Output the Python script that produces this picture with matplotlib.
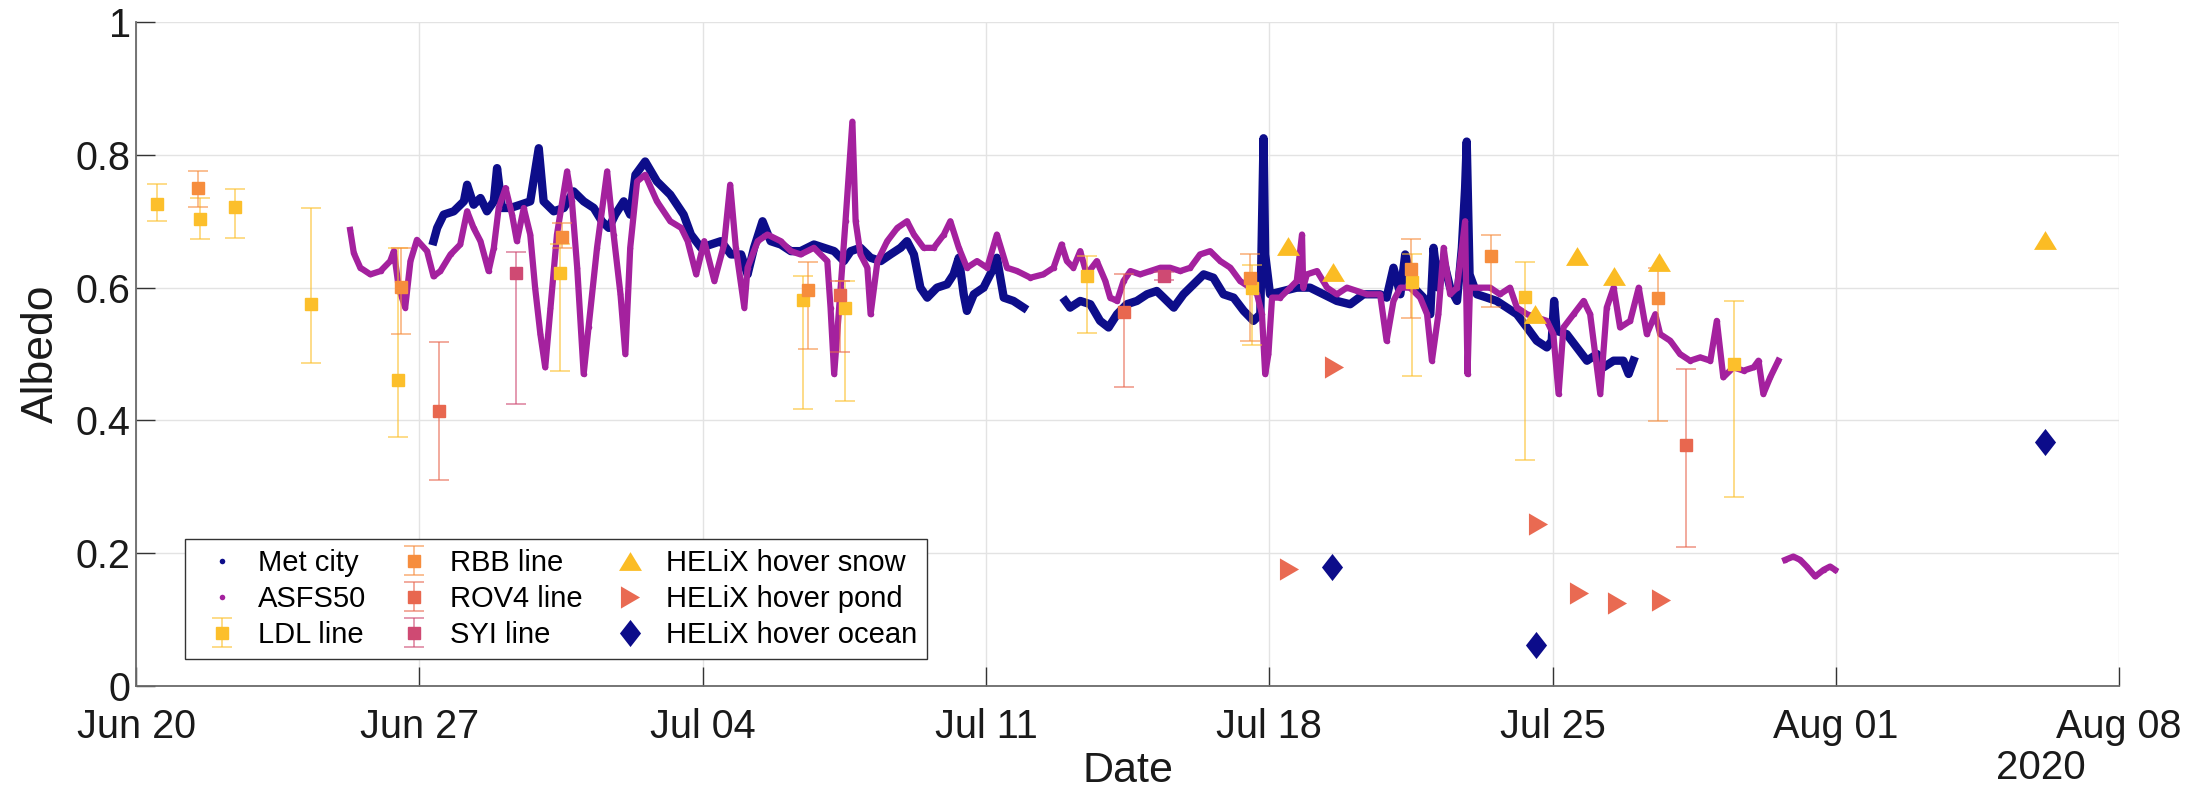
import numpy as np
import matplotlib
matplotlib.use('Agg')
import matplotlib.pyplot as plt
import matplotlib.dates as mdates
from matplotlib.colors import to_rgba

plt.rcParams['font.family'] = ['Liberation Sans', 'DejaVu Sans']

# days are counted from 2020-06-20 00:00
start = mdates.date2num(np.datetime64('2020-06-20'))

met_day = [7.35, 7.44, 7.60, 7.85, 8.10, 8.18, 8.34, 8.51, 8.67, 8.84, 8.92, 9.04, 9.25, 9.50, 9.74,
           9.95, 10.07, 10.32, 10.57, 10.81, 11.06, 11.31, 11.51, 11.68, 11.84, 12.05, 12.21, 12.34,
           12.58, 12.87, 13.20, 13.53, 13.71, 13.96, 14.20, 14.45, 14.70, 14.95, 15.11, 15.27, 15.48,
           15.68, 15.93, 16.18, 16.42, 16.75, 17.00, 17.25, 17.49, 17.66, 17.90, 18.15, 18.40, 18.64,
           18.89, 19.05, 19.22, 19.38, 19.55, 19.79, 20.04, 20.20, 20.33, 20.45, 20.53, 20.70, 20.94,
           21.19, 21.27, 21.44, 21.68, 21.93, 22.40,
           22.96, 23.08, 23.33, 23.58, 23.82, 24.03, 24.24, 24.48, 24.73, 24.98, 25.22, 25.39, 25.64,
           25.88, 26.13, 26.38, 26.62, 26.87, 27.12, 27.37, 27.61, 27.78, 27.86, 27.90, 28.02, 28.35,
           28.68, 29.01, 29.34, 29.67, 30.00, 30.33, 30.74, 30.90, 31.07, 31.24, 31.36, 31.57, 31.81,
           31.98, 32.06, 32.18, 32.31, 32.47, 32.64, 32.76, 32.84, 32.88, 32.95, 33.13, 33.38, 33.62,
           33.87, 34.12, 34.37, 34.61, 34.86, 34.98, 35.04, 35.10, 35.35, 35.60, 35.85, 36.10, 36.26,
           36.51, 36.75, 36.88, 37.00]
met_alb = [0.670, 0.690, 0.710, 0.715, 0.730, 0.755, 0.725, 0.735, 0.715, 0.730, 0.780, 0.720, 0.720,
           0.725, 0.730, 0.810, 0.730, 0.715, 0.720, 0.745, 0.730, 0.720, 0.700, 0.690, 0.710, 0.730,
           0.710, 0.770, 0.790, 0.760, 0.740, 0.710, 0.680, 0.660, 0.665, 0.670, 0.650, 0.650, 0.620,
           0.660, 0.700, 0.670, 0.665, 0.655, 0.655, 0.665, 0.660, 0.655, 0.640, 0.655, 0.660, 0.645,
           0.640, 0.650, 0.660, 0.670, 0.650, 0.600, 0.585, 0.600, 0.605, 0.620, 0.645, 0.590, 0.565,
           0.590, 0.600, 0.630, 0.645, 0.585, 0.580, 0.570, np.nan,
           0.580, 0.570, 0.580, 0.575, 0.550, 0.540, 0.560, 0.575, 0.580, 0.590, 0.595, 0.585, 0.570,
           0.590, 0.605, 0.620, 0.615, 0.590, 0.585, 0.565, 0.550, 0.560, 0.825, 0.650, 0.590, 0.595,
           0.600, 0.600, 0.590, 0.580, 0.575, 0.590, 0.590, 0.585, 0.630, 0.590, 0.650, 0.600, 0.585,
           0.560, 0.660, 0.600, 0.640, 0.600, 0.580, 0.660, 0.750, 0.820, 0.620, 0.590, 0.585, 0.580,
           0.570, 0.560, 0.540, 0.520, 0.510, 0.520, 0.580, 0.535, 0.530, 0.510, 0.490, 0.500, 0.480,
           0.490, 0.490, 0.470, 0.490]

asfs_day = [5.29, 5.38, 5.54, 5.79, 6.04, 6.28, 6.37, 6.49, 6.65, 6.78, 6.94, 7.19, 7.35, 7.52, 7.77,
            8.01, 8.18, 8.34, 8.51, 8.71, 8.84, 8.96, 9.13, 9.29, 9.41, 9.58, 9.74, 9.86, 9.99, 10.11,
            10.24, 10.40, 10.65, 10.77, 10.90, 11.06, 11.18, 11.39, 11.64, 11.80, 11.97, 12.09, 12.21,
            12.38, 12.58, 12.87, 13.20, 13.47, 13.63, 13.84, 14.04, 14.29, 14.53, 14.68, 14.82, 15.03,
            15.11, 15.36, 15.60, 15.93, 16.18, 16.42, 16.75, 17.08, 17.16, 17.25, 17.41, 17.53, 17.62,
            17.70, 17.78, 17.90, 18.07, 18.15, 18.32, 18.56, 18.81, 19.05, 19.22, 19.46, 19.71, 19.96,
            20.12, 20.33, 20.53, 20.78, 21.03, 21.27, 21.52, 21.77, 22.10, 22.42, 22.67, 22.87, 23.00,
            23.16, 23.33, 23.49, 23.74, 23.95, 24.07, 24.24, 24.40, 24.57, 24.81, 25.06, 25.31, 25.55,
            25.80, 26.05, 26.29, 26.54, 26.79, 27.04, 27.28, 27.53, 27.70, 27.82, 27.90, 27.98, 28.07,
            28.27, 28.52, 28.68, 28.81, 28.84, 28.93, 29.18, 29.43, 29.67, 29.92, 30.17, 30.41, 30.74,
            30.90, 31.07, 31.24, 31.48, 31.73, 31.90, 32.02, 32.18, 32.31, 32.47, 32.64, 32.76, 32.84,
            32.90, 32.96, 33.21, 33.46, 33.70, 33.95, 34.12, 34.37, 34.61, 34.86, 35.02, 35.15, 35.27,
            35.52, 35.77, 35.93, 36.18, 36.34, 36.51, 36.67, 36.92, 37.13, 37.33, 37.54, 37.66, 37.91,
            38.15, 38.40, 38.65, 38.90, 39.06, 39.22, 39.47, 39.72, 39.97, 40.09, 40.21, 40.38, 40.58,
            40.66,
            40.75, 40.95, 41.12, 41.28, 41.49, 41.70, 41.86, 41.98]
asfs_alb = [0.687, 0.652, 0.630, 0.620, 0.625, 0.640, 0.655, 0.600, 0.570, 0.640, 0.672, 0.655, 0.617,
            0.625, 0.650, 0.665, 0.715, 0.690, 0.670, 0.625, 0.660, 0.720, 0.750, 0.710, 0.670, 0.720,
            0.680, 0.600, 0.530, 0.480, 0.570, 0.680, 0.775, 0.730, 0.630, 0.470, 0.540, 0.660, 0.775,
            0.680, 0.590, 0.500, 0.660, 0.760, 0.770, 0.730, 0.700, 0.690, 0.670, 0.620, 0.670, 0.610,
            0.665, 0.755, 0.660, 0.570, 0.630, 0.670, 0.680, 0.670, 0.655, 0.650, 0.660, 0.640, 0.570,
            0.470, 0.600, 0.700, 0.780, 0.850, 0.700, 0.650, 0.630, 0.560, 0.640, 0.670, 0.690, 0.700,
            0.680, 0.660, 0.660, 0.680, 0.700, 0.660, 0.630, 0.640, 0.630, 0.680, 0.630, 0.625, 0.615,
            0.620, 0.630, 0.665, 0.640, 0.630, 0.655, 0.620, 0.640, 0.610, 0.585, 0.580, 0.610, 0.625,
            0.620, 0.625, 0.630, 0.630, 0.625, 0.630, 0.650, 0.655, 0.640, 0.630, 0.610, 0.600, 0.590,
            0.560, 0.470, 0.500, 0.585, 0.585, 0.600, 0.610, 0.680, 0.600, 0.620, 0.625, 0.600, 0.590,
            0.600, 0.595, 0.590, 0.590, 0.520, 0.580, 0.600, 0.600, 0.585, 0.560, 0.490, 0.560, 0.660,
            0.590, 0.600, 0.660, 0.700, 0.470, 0.600, 0.600, 0.600, 0.590, 0.600, 0.570, 0.560, 0.555,
            0.550, 0.530, 0.440, 0.540, 0.560, 0.580, 0.560, 0.440, 0.570, 0.600, 0.540, 0.550, 0.600,
            0.530, 0.560, 0.530, 0.520, 0.500, 0.490, 0.495, 0.490, 0.550, 0.465, 0.480, 0.475, 0.480,
            0.490, 0.440, 0.465, 0.490, np.nan,
            0.190, 0.195, 0.190, 0.180, 0.165, 0.175, 0.180, 0.175]

# transect lines: day, albedo, lower and upper end of the error bar
ldl_day = [0.52, 1.58, 2.44, 4.32, 6.48, 10.48, 16.47, 17.51, 23.50, 27.57, 31.53, 34.31, 39.49]
ldl_alb = [0.726, 0.703, 0.721, 0.575, 0.461, 0.622, 0.582, 0.569, 0.617, 0.599, 0.608, 0.586, 0.485]
ldl_lo = [0.700, 0.674, 0.675, 0.487, 0.375, 0.474, 0.417, 0.430, 0.531, 0.514, 0.467, 0.340, 0.285]
ldl_hi = [0.756, 0.735, 0.749, 0.720, 0.659, 0.665, 0.617, 0.610, 0.648, 0.634, 0.651, 0.638, 0.580]

rbb_day = [1.52, 6.54, 10.52, 16.60, 27.52, 31.50, 33.48, 37.60]
rbb_alb = [0.750, 0.601, 0.677, 0.597, 0.615, 0.628, 0.647, 0.584]
rbb_lo = [0.721, 0.530, 0.660, 0.507, 0.520, 0.555, 0.571, 0.399]
rbb_hi = [0.776, 0.659, 0.698, 0.639, 0.651, 0.673, 0.679, 0.630]

rov_day = [7.49, 17.39, 24.40, 38.30]
rov_alb = [0.414, 0.589, 0.564, 0.363]
rov_lo = [0.310, 0.503, 0.450, 0.210]
rov_hi = [0.518, 0.610, 0.620, 0.478]

syi_day = [9.38, 25.40]
syi_alb = [0.622, 0.618]
syi_lo = [0.425, 0.612]
syi_hi = [0.653, 0.624]

snow_day = [28.46, 29.57, 34.56, 35.60, 36.53, 37.62, 47.17]
snow_alb = [0.662, 0.624, 0.561, 0.647, 0.618, 0.638, 0.672]
pond_day = [28.50, 29.60, 34.63, 35.65, 36.60, 37.67]
pond_alb = [0.176, 0.481, 0.244, 0.140, 0.125, 0.130]
ocean_day = [29.56, 34.58, 47.17]
ocean_alb = [0.180, 0.062, 0.367]

c_met = '#0d0d8a'
c_asfs = '#a4219e'
c_ldl = '#fcbf2b'
c_rbb = '#f68d3d'
c_rov = '#e8674f'
c_syi = '#cf4a73'
c_snow = '#fbbc24'
c_pond = '#e96a52'
c_ocean = '#0c0c8a'
txt = '#1a1a1a'


def xd(days):
    return start + np.asarray(days, dtype=float)


fig = plt.figure(figsize=(22.09, 7.91), dpi=100)
ax = fig.add_axes([0.0616, 0.1327, 0.8977, 0.8394])

ax.plot(xd(met_day), met_alb, '-', color=c_met, lw=6, solid_joinstyle='round', zorder=2)
h_met, = ax.plot(xd(met_day), met_alb, 'o', color=c_met, ms=4, mew=0, zorder=2, label='Met city')
ax.plot(xd(asfs_day), asfs_alb, '-', color=c_asfs, lw=4.5, solid_joinstyle='round', zorder=3)
h_asfs, = ax.plot(xd(asfs_day), asfs_alb, 'o', color=c_asfs, ms=4, mew=0, zorder=3, label='ASFS50')


def ebar(days, alb, lo, hi, col, lab):
    a = np.asarray(alb)
    err = [a - np.asarray(lo), np.asarray(hi) - a]
    return ax.errorbar(xd(days), a, yerr=err, fmt='s', ms=9, color=col, mec=col,
                       ecolor=to_rgba(col, 0.65), elinewidth=1.2, capsize=7, capthick=1.2,
                       zorder=4, label=lab)


h_ldl = ebar(ldl_day, ldl_alb, ldl_lo, ldl_hi, c_ldl, 'LDL line')
h_rbb = ebar(rbb_day, rbb_alb, rbb_lo, rbb_hi, c_rbb, 'RBB line')
h_rov = ebar(rov_day, rov_alb, rov_lo, rov_hi, c_rov, 'ROV4 line')
h_syi = ebar(syi_day, syi_alb, syi_lo, syi_hi, c_syi, 'SYI line')

tri_up = [(0, 0.82), (-1, -0.82), (1, -0.82), (0, 0.82)]
tri_right = [(0.86, 0), (-0.86, 1), (-0.86, -1), (0.86, 0)]
diamond = [(0, 1), (0.78, 0), (0, -1), (-0.78, 0), (0, 1)]

h_snow, = ax.plot(xd(snow_day), snow_alb, ls='none', marker=tri_up, ms=16.5, color=c_snow,
                  mew=0, zorder=5, label='HELiX hover snow')
h_pond, = ax.plot(xd(pond_day), pond_alb, ls='none', marker=tri_right, ms=16, color=c_pond,
                  mew=0, zorder=5, label='HELiX hover pond')
h_ocean, = ax.plot(xd(ocean_day), ocean_alb, ls='none', marker=diamond, ms=19.5, color=c_ocean,
                   mew=0, zorder=5, label='HELiX hover ocean')

ax.set_xlim(start, start + 49)
ax.set_ylim(0, 1)
ax.set_xticks(start + np.arange(0, 50, 7))
ax.xaxis.set_major_formatter(mdates.DateFormatter('%b %d'))
ax.set_yticks([0, 0.2, 0.4, 0.6, 0.8, 1])
ax.set_yticklabels(['0', '0.2', '0.4', '0.6', '0.8', '1'])

ax.set_axisbelow(True)
ax.grid(True, color='#e3e3e3', lw=1)
for s in ['top', 'right']:
    ax.spines[s].set_visible(False)
for s in ['left', 'bottom']:
    ax.spines[s].set_color('#6a6a6a')
    ax.spines[s].set_linewidth(1.3)
ax.tick_params(direction='in', length=14, width=1, color='#333333', labelsize=28.5,
               labelcolor=txt, top=False, right=False)
ax.tick_params(axis='x', pad=15.5)
ax.tick_params(axis='y', pad=4)

ax.set_xlabel('Date', fontsize=31, color=txt)
ax.set_ylabel('Albedo', fontsize=32, color=txt)
ax.xaxis.set_label_coords(0.5, -0.098)
ax.yaxis.set_label_coords(-0.0373, 0.5)
fig.text(2041 / 2209, 1 - 768 / 791, '2020', ha='center', va='center', fontsize=29, color=txt)

leg = ax.legend([h_met, h_asfs, h_ldl, h_rbb, h_rov, h_syi, h_snow, h_pond, h_ocean],
                ['Met city', 'ASFS50', 'LDL line', 'RBB line', 'ROV4 line', 'SYI line',
                 'HELiX hover snow', 'HELiX hover pond', 'HELiX hover ocean'],
                ncol=3, loc='lower left', bbox_to_anchor=(0.0247, 0.0407), borderaxespad=0,
                fontsize=21, fancybox=False, framealpha=1, edgecolor='#333333',
                borderpad=0.35, labelspacing=0.27, handlelength=1.85, handletextpad=0.31,
                columnspacing=0.7)
leg.get_frame().set_linewidth(1.0)

fig.savefig('out.png', dpi=100)
